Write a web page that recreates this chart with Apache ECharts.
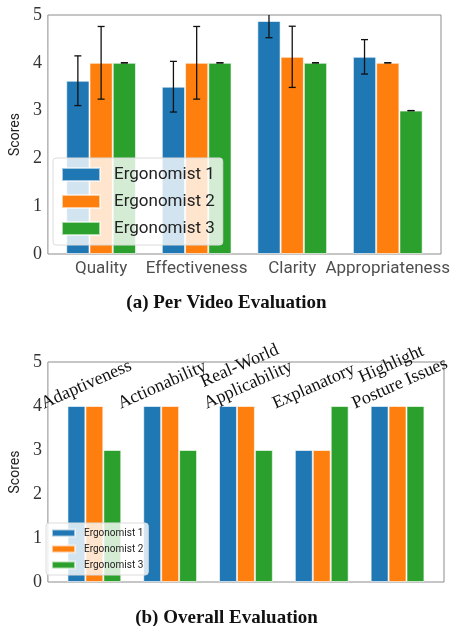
<!DOCTYPE html>
<html>
<head>
<meta charset="utf-8">
<script src="https://cdn.jsdelivr.net/npm/echarts@6/dist/echarts.min.js"></script>
<style>
html, body { margin: 0; padding: 0; background: #fff; }
#chart { width: 453px; height: 626px; }
</style>
</head>
<body>
<div id="chart"></div>
<script>
const raterNames = ['Ergonomist 1', 'Ergonomist 2', 'Ergonomist 3'];
const colors = ['#1f77b4', '#ff7f0e', '#2ca02c'];
const yTicks = [0, 1, 2, 3, 4, 5];

// (a) per video evaluation: mean and std per rater
const videoCats = ['Quality', 'Effectiveness', 'Clarity', 'Appropriateness'];
const videoMean1 = [3.625, 3.5, 4.875, 4.125];
const videoMean2 = [4, 4, 4.125, 4];
const videoMean3 = [4, 4, 4, 3];
const videoStd1 = [0.52, 0.53, 0.35, 0.36];
const videoStd2 = [0.76, 0.76, 0.64, 0];
const videoStd3 = [0, 0, 0, 0];

// (b) overall evaluation
const overallCats = ['Adaptiveness', 'Actionability', 'Real-World\nApplicability', 'Explanatory', 'Highlight\nPosture Issues'];
const overall1 = [4, 4, 4, 3, 4];
const overall2 = [4, 4, 4, 3, 4];
const overall3 = [3, 3, 3, 4, 4];

const videoMeans = [videoMean1, videoMean2, videoMean3];
const videoStds = [videoStd1, videoStd2, videoStd3];
const overallScores = [overall1, overall2, overall3];

const gapA = 0.27, gapB = 0.29;
const serif = '"Liberation Serif", "DejaVu Serif", serif';
const sans = 'Roboto, "Open Sans", sans-serif';
const frame = '#8c8c8c';

const chart = echarts.init(document.getElementById('chart'));

function yAxisFor(grid) {
  return {
    type: 'value', gridIndex: grid, min: yTicks[0], max: yTicks[yTicks.length - 1], interval: 1,
    name: 'Scores', nameLocation: 'middle', nameGap: 22, nameRotate: 90,
    nameTextStyle: { fontFamily: sans, fontSize: 14, color: '#222' },
    axisLine: { show: false }, axisTick: { show: false }, splitLine: { show: false },
    axisLabel: { fontFamily: serif, fontSize: 18, color: '#333', margin: 6 }
  };
}

const series = [];
raterNames.forEach((name, s) => {
  series.push({
    name: name, type: 'bar', xAxisIndex: 0, yAxisIndex: 0,
    barGap: '0%', barCategoryGap: (gapA * 100) + '%',
    itemStyle: { color: colors[s], borderColor: 'rgba(255,255,255,0.6)', borderWidth: 1 },
    data: videoMeans[s].map((v, i) => [i, v])
  });
});
raterNames.forEach((name, s) => {
  series.push({
    name: name, type: 'bar', xAxisIndex: 1, yAxisIndex: 1,
    barGap: '0%', barCategoryGap: (gapB * 100) + '%',
    itemStyle: { color: colors[s], borderColor: 'rgba(255,255,255,0.6)', borderWidth: 1 },
    data: overallScores[s].map((v, i) => [i, v])
  });
});

// error bars for (a)
const errData = [];
raterNames.forEach((name, s) => {
  videoMeans[s].forEach((m, i) => errData.push([i, m, videoStds[s][i], s]));
});
series.push({
  type: 'custom', xAxisIndex: 0, yAxisIndex: 0, z: 5, silent: true, clip: true,
  data: errData,
  renderItem: function (params, api) {
    const x = api.value(0) + (api.value(3) - 1) * (1 - gapA) / 3;
    const m = api.value(1), sd = api.value(2);
    const lo = api.coord([x, m - sd]);
    const hi = api.coord([x, m + sd]);
    const st = { stroke: '#111', lineWidth: 1.3 };
    const cap = 3.5;
    return {
      type: 'group',
      children: [
        { type: 'line', shape: { x1: lo[0], y1: lo[1], x2: hi[0], y2: hi[1] }, style: st },
        { type: 'line', shape: { x1: lo[0] - cap, y1: lo[1], x2: lo[0] + cap, y2: lo[1] }, style: st },
        { type: 'line', shape: { x1: hi[0] - cap, y1: hi[1], x2: hi[0] + cap, y2: hi[1] }, style: st }
      ]
    };
  }
});

// category labels for (a)
series.push({
  type: 'scatter', xAxisIndex: 0, yAxisIndex: 0, silent: true, clip: false,
  symbolSize: 0,
  data: videoCats.map((c, i) => [i, 0]),
  label: {
    show: true, position: 'bottom', distance: 6,
    fontFamily: sans, fontSize: 17, color: '#222',
    formatter: p => videoCats[p.dataIndex]
  }
});

const legendBase = {
  orient: 'vertical', icon: 'rect', data: raterNames,
  backgroundColor: 'rgba(255,255,255,0.8)', borderColor: '#dcdcdc', borderWidth: 1, borderRadius: 3
};

chart.setOption({
  animation: false,
  backgroundColor: '#fff',
  title: [
    { text: '(a) Per Video Evaluation', left: 'center', top: 289,
      textStyle: { fontFamily: serif, fontWeight: 'bold', fontSize: 19, color: '#111' } },
    { text: '(b) Overall Evaluation', left: 'center', top: 604,
      textStyle: { fontFamily: serif, fontWeight: 'bold', fontSize: 19, color: '#111' } }
  ],
  legend: [
    Object.assign({}, legendBase, {
      left: 53, top: 158, padding: [8, 8, 8, 8], itemWidth: 38, itemHeight: 13, itemGap: 10,
      textStyle: { fontFamily: sans, fontSize: 17, lineHeight: 17, color: '#222', padding: [0, 0, 0, 9] }
    }),
    Object.assign({}, legendBase, {
      left: 46, top: 523, padding: [5, 5, 5, 5], itemWidth: 23, itemHeight: 7, itemGap: 6,
      textStyle: { fontFamily: sans, fontSize: 10, lineHeight: 10, color: '#222', padding: [0, 0, 0, 4] }
    })
  ],
  grid: [
    { left: 44, right: 12, top: 15, bottom: 372, show: true, borderColor: frame, borderWidth: 1 },
    { left: 40, right: 9, top: 362, bottom: 44, show: true, borderColor: frame, borderWidth: 1 }
  ],
  xAxis: [
    { type: 'value', gridIndex: 0, min: -0.557, max: videoCats.length - 1 + 0.557, show: false },
    { type: 'value', gridIndex: 1, min: -0.613, max: overallCats.length - 1 + 0.613, show: false }
  ],
  yAxis: [yAxisFor(0), yAxisFor(1)],
  series: series
});

// rotated category labels for (b), sitting on top of the score-4 level
const rot = 24 * Math.PI / 180;
const labelFont = '18px "Liberation Serif"';
const labelLine = 21;
const ctx = document.createElement('canvas').getContext('2d');
ctx.font = labelFont;
const graphics = overallCats.map((txt, i) => {
  const lines = txt.split('\n');
  const w = Math.max.apply(null, lines.map(l => ctx.measureText(l).width));
  const h = lines.length * labelLine;
  const boxH = w * Math.sin(rot) + h * Math.cos(rot);
  const p = chart.convertToPixel({ xAxisIndex: 1, yAxisIndex: 1 }, [i, 4]);
  const dx = lines.length > 1 ? -2 : -8;
  return {
    type: 'text', x: p[0] + dx, y: p[1] + 8 - boxH / 2, rotation: rot, z: 10, silent: true,
    style: { text: txt, font: labelFont, fill: '#111', align: 'center', verticalAlign: 'middle', lineHeight: labelLine }
  };
});
chart.setOption({ graphic: graphics });
</script>
</body>
</html>
